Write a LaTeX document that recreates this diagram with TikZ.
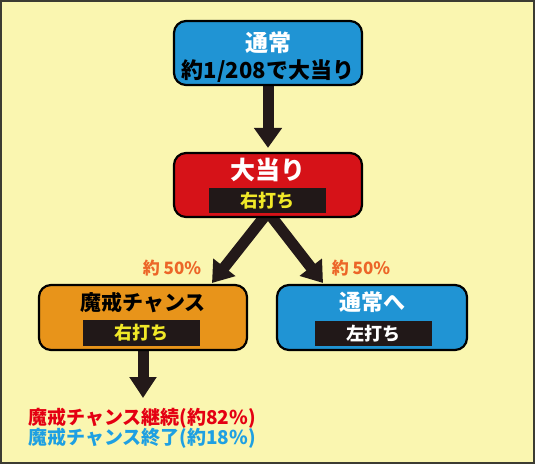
\documentclass[tikz,border=0pt]{standalone}
\usepackage{fontspec}
\setmainfont{Noto Sans CJK JP}
\usetikzlibrary{arrows.meta}
\definecolor{bgyellow}{RGB}{250,246,176}
\definecolor{framegray}{RGB}{60,60,50}
\definecolor{boxblue}{RGB}{32,148,212}
\definecolor{boxred}{RGB}{214,18,24}
\definecolor{boxorange}{RGB}{232,148,26}
\definecolor{barblack}{RGB}{33,24,24}
\definecolor{txtyellow}{RGB}{240,232,40}
\definecolor{lblorange}{RGB}{236,102,40}
\definecolor{txtred}{RGB}{228,0,18}
\definecolor{txtblue}{RGB}{30,160,226}
\definecolor{arrowblack}{RGB}{35,25,25}
\pgfdeclarelayer{bglayer}
\pgfdeclarelayer{arrowlayer}
\pgfsetlayers{bglayer,arrowlayer,main}
\tikzset{
  box/.style={draw=black, line width=2.2pt, rounded corners=12pt, inner sep=0pt},
  bar/.style={fill=barblack, minimum width=117pt, minimum height=25pt, inner sep=0pt},
  bigarrow/.style={draw=arrowblack, line width=11pt, -{Triangle[width=27pt,length=20pt]}},
  ttl/.style={font=\bfseries\fontsize{23}{26}\selectfont, inner sep=0pt},
}
\begin{document}
\begin{tikzpicture}[x=1pt,y=-1pt]
\useasboundingbox (0,0) rectangle (535,464);
\begin{pgfonlayer}{bglayer}
\fill[bgyellow] (0,0) rectangle (535,464);
\draw[framegray, line width=2pt] (1,1) rectangle (534,463);
\end{pgfonlayer}
% boxes
\node[box, fill=boxblue, minimum width=188pt, minimum height=64pt] (b1) at (268,53) {};
\node[box, fill=boxred, minimum width=188pt, minimum height=64pt] (b2) at (268,185) {};
\node[box, fill=boxorange, minimum width=208pt, minimum height=65pt] (b3) at (143,317.5) {};
\node[box, fill=boxblue, minimum width=190pt, minimum height=65pt] (b4) at (372,317.5) {};
% box 1 texts
\node[ttl, text=white] (t1) at (268,43) {通常};
\node[inner sep=0pt, font=\bfseries\fontsize{22}{24}\selectfont] (t1b) at (268,71) {約1/208で大当り};
% box 2 texts
\node[ttl, text=white, font=\bfseries\fontsize{25}{28}\selectfont] (t2) at (268,170) {大当り};
\node[bar] (r2) at (267.5,200.5) {};
\node[inner sep=0pt, text=txtyellow, font=\bfseries\fontsize{18}{20}\selectfont] (r2t) at (r2) {右打ち};
% box 3 texts
\node[inner sep=0pt, font=\bfseries\fontsize{21}{24}\selectfont] (t3) at (143,303) {魔戒チャンス};
\node[bar, minimum height=26pt] (r3) at (141.5,333) {};
\node[inner sep=0pt, text=txtyellow, font=\bfseries\fontsize{18}{20}\selectfont] (r3t) at (r3) {右打ち};
% box 4 texts
\node[inner sep=0pt, text=white, font=\bfseries\fontsize{22}{24}\selectfont] (t4) at (372,302) {通常へ};
\node[bar] (r4) at (373.5,333.5) {};
\node[inner sep=0pt, text=white, font=\bfseries\fontsize{18}{20}\selectfont] (r4t) at (r4) {左打ち};
% labels
\node[inner sep=0pt, text=lblorange, font=\bfseries\fontsize{17}{20}\selectfont] (l1) at (172,268) {約 50\%};
\node[inner sep=0pt, text=lblorange, font=\bfseries\fontsize{17}{20}\selectfont] (l2) at (361,268) {約 50\%};
% bottom texts
\node[anchor=west, inner sep=0pt, text=txtred, font=\bfseries\fontsize{19}{22}\selectfont] (s1) at (28,418) {魔戒チャンス継続(約82\%)};
\node[anchor=west, inner sep=0pt, text=txtblue, font=\bfseries\fontsize{19}{22}\selectfont] (s2) at (28,438) {魔戒チャンス終了(約18\%)};
% arrow end points
\coordinate (tl) at (212,283);
\coordinate (tr) at (323,283);
\coordinate (tb) at (143,398);
\begin{pgfonlayer}{arrowlayer}
\draw[bigarrow] (b1.south) -- ([yshift=4pt]b2.north);
\draw[bigarrow] ([yshift=6pt]b2.south) -- (tl);
\draw[bigarrow] ([yshift=6pt]b2.south) -- (tr);
\draw[bigarrow, -{Triangle[width=26pt,length=21pt]}] (b3.south) -- (tb);
\end{pgfonlayer}
\end{tikzpicture}
\end{document}
